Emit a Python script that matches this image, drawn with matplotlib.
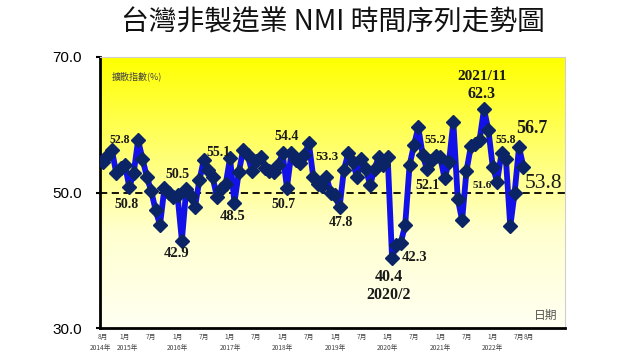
import matplotlib

matplotlib.use("Agg")
import matplotlib.pyplot as plt
import numpy as np
from matplotlib.colors import LinearSegmentedColormap

plt.rcParams["font.family"] = ["Noto Sans CJK TC", "DejaVu Sans"]

# monthly NMI, Aug 2014 .. Aug 2022
nmi_values = [
    54.5, 55.4, 56.3, 52.9, 53.6,                                      # 2014
    54.1, 50.8, 52.9, 57.7, 55.0, 52.3, 50.2, 47.4, 45.2, 50.6, 50.0, 49.4,  # 2015
    49.6, 42.9, 50.5, 49.5, 47.9, 51.8, 54.8, 53.3, 52.3, 49.4, 50.5, 51.2,  # 2016
    55.1, 48.5, 53.0, 56.3, 55.6, 53.1, 54.6, 55.3, 53.6, 53.1, 53.0, 54.0,  # 2017
    55.8, 50.7, 55.8, 54.8, 54.3, 55.5, 57.3, 52.3, 51.2, 50.9, 52.3, 50.0,  # 2018
    49.6, 47.8, 53.3, 55.8, 54.5, 52.3, 55.0, 53.5, 51.1, 53.5, 55.3, 54.0,  # 2019
    55.3, 40.4, 42.3, 42.6, 45.2, 54.0, 57.0, 59.6, 55.5, 53.4, 54.6, 55.4,  # 2020
    55.2, 52.1, 54.5, 60.4, 49.1, 45.9, 53.2, 56.8, 57.2, 57.8, 62.3, 59.2,  # 2021
    53.8, 51.6, 55.8, 55.0, 45.0, 50.0, 56.7, 53.8,                    # 2022
]

month_tick_pos = [0, 5, 11, 17, 23, 29, 35, 41, 47, 53, 59, 65, 71, 77, 83, 89, 95, 97.3]
month_tick_labels = ["8月", "1月", "7月", "1月", "7月", "1月", "7月", "1月", "7月",
                     "1月", "7月", "1月", "7月", "1月", "7月", "1月", "7月", "8月"]
year_tick_pos = [-0.6, 5.6, 17, 29, 41, 53, 65, 77, 89]
year_tick_labels = ["2014年", "2015年", "2016年", "2017年", "2018年",
                    "2019年", "2020年", "2021年", "2022年"]

# (text, x, y, size, bold)
point_labels = [
    ("52.8", 3.7, 57.8, 8.5, True),
    ("50.8", 5.3, 48.3, 10, True),
    ("50.5", 16.9, 52.6, 10, True),
    ("42.9", 16.9, 41.0, 10.5, True),
    ("55.1", 26.4, 55.9, 10, True),
    ("48.5", 29.5, 46.4, 10.5, True),
    ("54.4", 41.9, 58.2, 10, True),
    ("50.7", 41.1, 48.2, 10, True),
    ("53.3", 51.1, 55.3, 9.5, True),
    ("47.8", 54.3, 45.5, 10, True),
    ("40.4", 65.3, 37.6, 11.5, True),
    ("2020/2", 65.3, 34.9, 11.5, True),
    ("42.3", 71.2, 40.4, 10.5, True),
    ("55.2", 75.8, 57.7, 9, True),
    ("52.1", 74.2, 51.1, 10, True),
    ("2021/11", 86.5, 67.1, 11, True),
    ("62.3", 86.5, 64.6, 11.5, True),
    ("51.6", 86.5, 51.0, 8, True),
    ("55.8", 92.0, 57.7, 8.5, True),
    ("56.7", 97.9, 59.5, 13, True),
]

months = np.arange(len(nmi_values))

fig = plt.figure(figsize=(6.4, 3.6), dpi=100)
ax = fig.add_axes([100 / 640, 32 / 360, 465 / 640, 271 / 360])

x_min, x_max = -0.7, 105.5
y_min, y_max = 30, 70

# yellow to pale gradient behind the plot
bg_cmap = LinearSegmentedColormap.from_list(
    "bg", [(0.0, "#fffff2"), (0.35, "#ffffd0"), (0.65, "#ffff70"), (1.0, "#ffff00")]
)
grad = np.linspace(0, 1, 256).reshape(-1, 1)
ax.imshow(grad, cmap=bg_cmap, aspect="auto", origin="lower",
          extent=[x_min, x_max, y_min, y_max], zorder=0)

ax.axhline(50, color="black", linestyle=(0, (4, 2.5)), linewidth=1.3, zorder=2,
           xmax=1.005, clip_on=False)
ax.plot(months, nmi_values, color="#1212e8", linewidth=4.2, zorder=3,
        solid_joinstyle="round")
ax.plot(months, nmi_values, linestyle="none", marker="D", markersize=7.3,
        color="#0b2466", zorder=4)

for text, x, y, size, bold in point_labels:
    ax.text(x, y, text, ha="center", va="center", fontsize=size,
            family="Liberation Serif", fontweight="bold" if bold else "normal",
            color="#1a1a1a", zorder=5)
ax.text(100.5, 51.4, "53.8", ha="center", va="center", fontsize=15.5,
        family="Liberation Serif", color="#1a1a1a", zorder=5, clip_on=False)

ax.text(2.0, 67.2, "擴散指數(%)", ha="left", va="center", fontsize=6.5, color="#444444")
ax.text(98.5, 31.8, "日期", ha="left", va="center", fontsize=8.5, color="#555555")

ax.set_xlim(x_min, x_max)
ax.set_ylim(y_min, y_max)
ax.set_yticks([30, 50, 70])
ax.set_yticklabels(["30.0", "50.0", "70.0"], family="Liberation Sans", fontsize=11)
ax.tick_params(axis="y", length=3, width=1.5, pad=10, direction="out")
ax.set_xticks([])

for pos, lab in zip(month_tick_pos, month_tick_labels):
    ax.text(pos, -0.033, lab, transform=ax.get_xaxis_transform(), ha="center",
            va="center", fontsize=4.8, color="#444444")
for pos, lab in zip(year_tick_pos, year_tick_labels):
    ax.text(pos, -0.074, lab, transform=ax.get_xaxis_transform(), ha="center",
            va="center", fontsize=4.8, color="#444444")

for side in ["left", "bottom"]:
    ax.spines[side].set_linewidth(2.0)
    ax.spines[side].set_color("black")
for side in ["top", "right"]:
    ax.spines[side].set_linewidth(0.8)
    ax.spines[side].set_color("#cfcfcf")

fig.text(0.52, 0.938, "台灣非製造業 NMI 時間序列走勢圖", ha="center", va="center",
         fontsize=20, color="#111111")

fig.savefig("out.png", dpi=100, facecolor="white")
